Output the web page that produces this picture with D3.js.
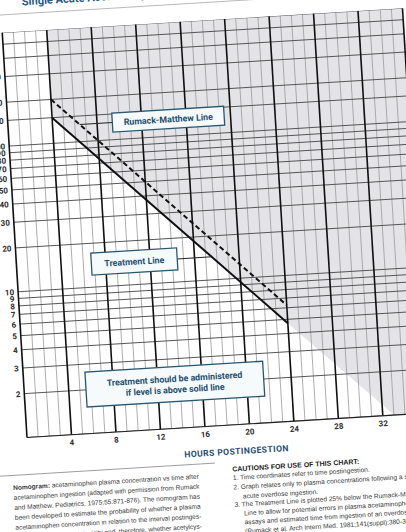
<!DOCTYPE html>
<html>
<head>
  <meta charset="utf-8">
  <title>Acetaminophen overdose nomogram</title>
  <script src="https://cdn.jsdelivr.net/npm/d3@7"></script>
  <style>
    body { margin: 0; background: #fff; }
    svg { display: block; font-family: "Liberation Sans", Arial, sans-serif; }
    .shade { fill: #e4e4e8; }
    .grid-h { stroke: #4a4a4a; stroke-width: 0.9; }
    .grid-v { stroke: #9c9c9c; stroke-width: 0.8; }
    .grid-major { stroke: #111; stroke-width: 1.6; }
    .tick-label { font-family: Roboto, sans-serif; font-size: 8px; font-weight: bold; fill: #2a2a2a; }
    .curve { fill: none; stroke: #111; stroke-width: 2; }
    .callout rect { fill: #f5fafc; stroke: #2b5670; stroke-width: 1.3; }
    .callout text { font-family: Roboto, sans-serif; font-size: 8.8px; font-weight: bold; fill: #1d4d6c; text-anchor: middle; }
    .leader { stroke: #222; stroke-width: 1; }
    .axis-title { font-family: Roboto, sans-serif; font-size: 8.6px; font-weight: bold; fill: #1f4f78; letter-spacing: 0.4px; text-anchor: middle; }
    .page-title { font-family: Roboto, sans-serif; font-size: 11px; font-weight: bold; fill: #1f5a8a; }
    .note { font-size: 6.6px; fill: #3a3a3a; }
    .note-head { font-size: 7px; font-weight: bold; fill: #222; }
    .rule { stroke: #aaa; stroke-width: 0.8; }
  </style>
</head>
<body>
  <script type="text/javascript">
    // Values
    var hourLabels = [4, 8, 12, 16, 20, 24, 28, 32];
    var concGrid = [1, 2, 3, 4, 5, 6, 7, 8, 9, 10, 20, 30, 40, 50, 60, 70, 80, 90, 100, 150, 200, 300, 400, 500, 600];
    var concLabels = [2, 3, 4, 5, 6, 7, 8, 9, 10, 20, 30, 40, 50, 60, 70, 80, 90, 100, 150, 200, 300, 400, 500];
    var rumackHours = [4, 24];
    var rumackConc = [200, 6.25];
    var treatHours = [4, 24];
    var treatConc = [150, 4.7];
    var shadeHours = [4, 24, 36];
    var shadeConc = [150, 4.7, 0.6];

    var noteLines = [
      "acetaminophen plasma concentration vs time after",
      "acetaminophen ingestion (adapted with permission from Rumack",
      "and Matthew. Pediatrics. 1975;55:871-876). The nomogram has",
      "been developed to estimate the probability of whether a plasma",
      "acetaminophen concentration in relation to the interval postinges-",
      "tion will result in hepatotoxicity and, therefore, whether acetylcys-",
      "teine therapy should be administered."
    ];
    var cautionLines = [
      "1. Time coordinates refer to time postingestion.",
      "2. Graph relates only to plasma concentrations following a single",
      "acute overdose ingestion.",
      "3. The Treatment Line is plotted 25% below the Rumack-Matthew",
      "Line to allow for potential errors in plasma acetaminophen",
      "assays and estimated time from ingestion of an overdose",
      "(Rumack et al. Arch Intern Med. 1981;141(suppl):380-385)."
    ];

    var width = 406, height = 532;
    var plotW = 401, plotH = 405.6;

    var svg = d3.select("body").append("svg")
      .attr("width", width)
      .attr("height", height);

    // the scanned page sits a little askew
    var g = svg.append("g")
      .attr("transform", "translate(27,437.5) rotate(-3.5)");

    var x = d3.scaleLinear().domain([0, 36]).range([0, plotW]);
    var y = d3.scaleLog().domain([1, 600]).range([0, -plotH]);

    svg.append("defs").append("clipPath").attr("id", "plot-clip")
      .append("rect")
      .attr("x", 0).attr("y", -plotH)
      .attr("width", plotW).attr("height", plotH);

    var plot = g.append("g").attr("clip-path", "url(#plot-clip)");

    // shaded zone above the treatment line
    var shadeData = shadeHours.map(function(h, i) { return [h, shadeConc[i]]; });
    plot.append("path")
      .attr("class", "shade")
      .attr("d", d3.area()
        .x(function(d) { return x(d[0]); })
        .y0(y(600))
        .y1(function(d) { return y(d[1]); })(shadeData));

    // grid
    var hours = d3.range(0, 37);
    plot.selectAll(".grid-v")
      .data(hours.filter(function(h) { return h % 4 !== 0; }))
      .enter().append("line")
      .attr("class", "grid-v")
      .attr("x1", x).attr("x2", x)
      .attr("y1", y(1)).attr("y2", y(600));

    plot.selectAll(".grid-h")
      .data(concGrid)
      .enter().append("line")
      .attr("class", "grid-h")
      .attr("x1", x(0)).attr("x2", x(36))
      .attr("y1", y).attr("y2", y);

    g.selectAll(".grid-major")
      .data(hours.filter(function(h) { return h % 4 === 0; }))
      .enter().append("line")
      .attr("class", "grid-major")
      .attr("x1", x).attr("x2", x)
      .attr("y1", y(1)).attr("y2", y(600));

    g.append("line").attr("class", "grid-h")
      .attr("x1", x(0)).attr("x2", x(36))
      .attr("y1", y(1)).attr("y2", y(1))
      .style("stroke", "#222").style("stroke-width", 1.2);

    // lines
    var line = d3.line()
      .x(function(d) { return x(d[0]); })
      .y(function(d) { return y(d[1]); });

    g.append("path")
      .attr("class", "curve")
      .attr("stroke-dasharray", "5,3")
      .attr("d", line(rumackHours.map(function(h, i) { return [h, rumackConc[i]]; })));

    g.append("path")
      .attr("class", "curve")
      .attr("d", line(treatHours.map(function(h, i) { return [h, treatConc[i]]; })));

    // hour where a line reaches a given level
    function hourAt(hrs, conc, c) {
      return d3.scaleLinear().domain(conc.map(Math.log)).range(hrs)(Math.log(c));
    }

    // call-outs
    function callout(cx, cy, w, h, lines) {
      var box = g.append("g").attr("class", "callout")
        .attr("transform", "translate(" + cx + "," + cy + ")");
      box.append("rect")
        .attr("x", -w / 2).attr("y", -h / 2)
        .attr("width", w).attr("height", h);
      box.selectAll("text")
        .data(lines)
        .enter().append("text")
        .attr("y", function(d, i) { return (i - (lines.length - 1) / 2) * 11 + 3.2; })
        .text(function(d) { return d; });
    }

    var rmLevel = 131;
    g.append("line").attr("class", "leader")
      .attr("x1", x(hourAt(rumackHours, rumackConc, rmLevel))).attr("x2", x(14.4) - 56)
      .attr("y1", y(rmLevel)).attr("y2", y(rmLevel));
    callout(x(14.4), y(rmLevel), 112, 19, ["Rumack-Matthew Line"]);

    var txLevel = 14.4;
    g.append("line").attr("class", "leader")
      .attr("x1", x(10.58) + 43).attr("x2", x(hourAt(treatHours, treatConc, txLevel)))
      .attr("y1", y(txLevel)).attr("y2", y(txLevel));
    callout(x(10.58), y(txLevel), 86, 22, ["Treatment Line"]);

    callout(x(13.54), y(2.01), 178, 35,
      ["Treatment should be administered", "if level is above solid line"]);

    // axis labels
    g.selectAll(".x-label")
      .data(hourLabels)
      .enter().append("text")
      .attr("class", "tick-label")
      .attr("text-anchor", "middle")
      .attr("x", x).attr("y", 10.5)
      .text(function(d) { return d; });

    g.selectAll(".y-label")
      .data(concLabels)
      .enter().append("text")
      .attr("class", "tick-label")
      .attr("text-anchor", "end")
      .attr("x", -4)
      .attr("y", function(d) { return y(d) + 3; })
      .text(function(d) { return d; });

    g.append("text")
      .attr("class", "axis-title")
      .attr("x", x(18.7)).attr("y", 29.5)
      .text("HOURS POSTINGESTION");

    // page title and rules
    g.append("text")
      .attr("class", "page-title")
      .attr("x", 21.5).attr("y", -plotH - 26)
      .text("Single Acute Acetaminophen Overdose Nomogram");

    g.append("line").attr("class", "rule")
      .attr("x1", -40).attr("x2", 440)
      .attr("y1", -plotH - 17.7).attr("y2", -plotH - 17.7);

    g.append("line").attr("class", "rule")
      .attr("x1", -40).attr("x2", 186)
      .attr("y1", 37).attr("y2", 37)
      .style("stroke", "#888");

    // footnotes
    var note = g.append("g");
    note.selectAll("text")
      .data(noteLines)
      .enter().append("text")
      .attr("class", "note")
      .attr("x", -17)
      .attr("y", function(d, i) { return 51.5 + i * 10; })
      .attr("textLength", function(d, i) { return i < noteLines.length - 1 ? 186 : null; })
      .attr("lengthAdjust", "spacingAndGlyphs")
      .each(function(d, i) {
        var t = d3.select(this);
        if (i === 0) {
          t.append("tspan").style("font-weight", "bold").text("Nomogram: ");
          t.append("tspan").text(d);
        } else {
          t.text(d);
        }
      });

    g.append("text")
      .attr("class", "note-head")
      .attr("x", 203).attr("y", 46.5)
      .text("CAUTIONS FOR USE OF THIS CHART:");

    var cautionY = [55, 64.5, 74, 82, 91, 100, 109];
    g.selectAll(".caution")
      .data(cautionLines)
      .enter().append("text")
      .attr("class", "note")
      .attr("x", function(d) { return /^\d/.test(d) ? 203 : 212; })
      .attr("y", function(d, i) { return cautionY[i]; })
      .text(function(d) { return d; });
  </script>
</body>
</html>
